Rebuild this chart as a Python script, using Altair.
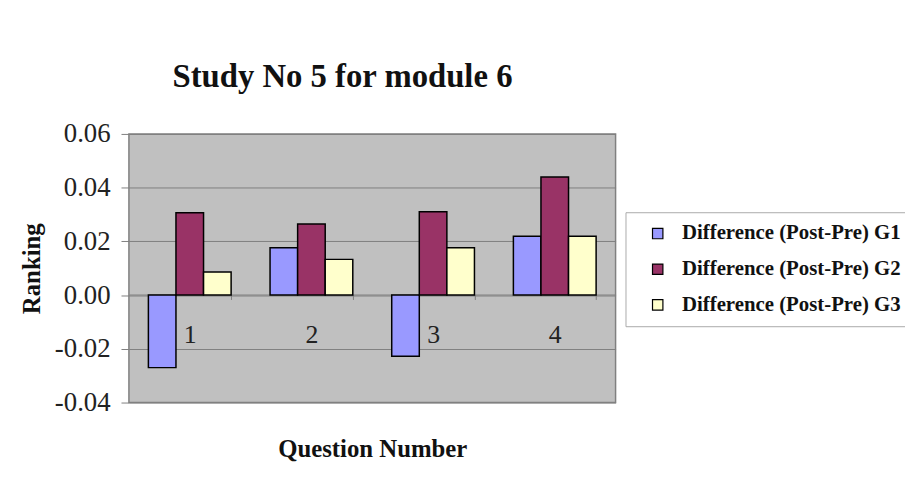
import altair as alt
import pandas as pd

questions = ["1", "2", "3", "4"]
series = ["Difference (Post-Pre) G1", "Difference (Post-Pre) G2", "Difference (Post-Pre) G3"]
g1 = [-0.027, 0.0176, -0.0228, 0.0219]
g2 = [0.0307, 0.0265, 0.031, 0.044]
g3 = [0.0086, 0.0133, 0.0176, 0.0219]
colors = ["#9999FF", "#993366", "#FFFFCC"]
y_ticks = [-0.04, -0.02, 0.0, 0.02, 0.04, 0.06]

rows = []
for s, vals in zip(series, [g1, g2, g3]):
    for q, v in zip(questions, vals):
        rows.append({"Question": q, "Series": s, "Value": v})
df = pd.DataFrame(rows)

FONT = "Liberation Serif"

chart = alt.Chart(df).mark_bar(stroke="black", strokeWidth=1.5).encode(
    x=alt.X("Question:N", sort=questions,
            scale=alt.Scale(paddingInner=0.32, paddingOuter=0.16),
            axis=alt.Axis(title="Question Number", labelAngle=0, offset=-109,
                          tickBand="extent", tickSize=5, tickColor="#808080",
                          domainColor="#808080", labelFontSize=26, labelPadding=22,
                          labelColor="#222222", titleFontSize=25, titleFontWeight="bold",
                          titlePadding=90, titleColor="#111111")),
    xOffset=alt.XOffset("Series:N", sort=series, scale=alt.Scale(paddingInner=0, paddingOuter=0)),
    y=alt.Y("Value:Q", scale=alt.Scale(domain=[-0.04, 0.06], nice=False),
            axis=alt.Axis(title="Ranking", values=y_ticks,
                          labelExpr="(datum.value < -0.0001 ? '-' : '') + format(abs(datum.value), '.2f')",
                          grid=True, gridColor="#808080", gridWidth=1,
                          tickSize=8, tickColor="#808080", domain=False,
                          labelFontSize=27, labelPadding=11, labelColor="#222222",
                          titleFontSize=25, titleFontWeight="bold", titlePadding=10,
                          titleColor="#111111")),
    fill=alt.Fill("Series:N", sort=series,
                  scale=alt.Scale(domain=series, range=colors),
                  legend=alt.Legend(title=None, orient="none", legendX=501, legendY=79,
                                    symbolType="square", symbolSize=110,
                                    symbolStrokeColor="black", symbolStrokeWidth=1.2,
                                    labelFontSize=21, labelFontWeight="bold",
                                    labelColor="#111111", labelOffset=14,
                                    rowPadding=14, padding=11, symbolOffset=11,
                                    strokeColor="#aaaaaa", fillColor="white",
                                    labelLimit=400)),
).properties(
    width=491, height=271,
    title=alt.TitleParams("Study No 5 for module 6", fontSize=33, fontWeight="bold",
                          anchor="middle", dx=-30, offset=26, color="#111111"),
    autosize=alt.AutoSizeParams(type="none"),
    padding={"left": 122, "top": 125, "right": 292, "bottom": 66},
).configure(font=FONT).configure_view(fill="#C0C0C0", stroke="#808080", strokeWidth=1.5)

chart.save("out.html", embed_options={"renderer": "svg", "actions": False})
